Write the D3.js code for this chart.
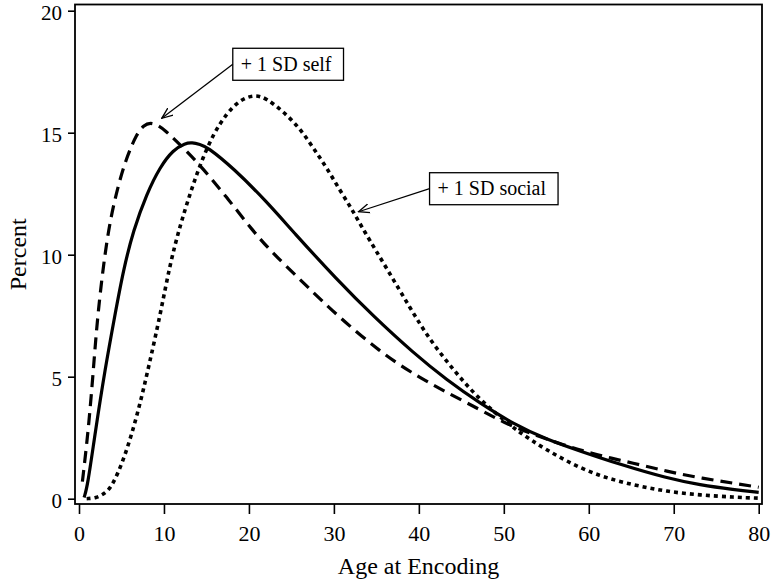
<!DOCTYPE html>
<html>
<head>
<meta charset="utf-8">
<script src="https://cdn.jsdelivr.net/npm/d3@7"></script>
<style>
  html, body { margin: 0; padding: 0; background: #fff; }
  svg { display: block; }
  text { font-family: "Liberation Serif", "Times New Roman", serif; fill: #000; }
</style>
</head>
<body>
<svg id="chart" width="773" height="584"></svg>
<script>
// ---------- data ----------
const selfAge = [0.4, 1.1, 1.7, 2.2, 3.3, 4.45, 5.6, 6.8, 7.6, 8.4, 9.3, 10.1, 11.5, 14.25, 17.4, 20.5, 22.7, 26.4, 30.4, 35.5, 39.4, 43.3, 47.2, 50, 53.1, 57, 61, 65.3, 69.2, 73.1, 77.1, 80];
const selfPct = [0.7, 2.8, 5.3, 7.6, 10.8, 12.65, 14.0, 14.95, 15.3, 15.42, 15.3, 15.1, 14.65, 13.68, 12.35, 10.96, 10.1, 8.85, 7.5, 6.0, 5.1, 4.35, 3.65, 3.12, 2.68, 2.2, 1.79, 1.45, 1.12, 0.85, 0.63, 0.47];

const baseAge = [0.6, 1.0, 1.9, 3.06, 4.24, 5.22, 6.4, 7.97, 9.54, 11.1, 12.5, 13.3, 14.25, 15.04, 18.2, 22.1, 25.2, 30.4, 34.7, 39.4, 43.3, 47.2, 51.2, 55.1, 59, 63.7, 69.2, 73.1, 77.1, 80];
const basePct = [0.05, 0.5, 2.7, 5.3, 7.55, 9.37, 11.0, 12.5, 13.6, 14.3, 14.57, 14.6, 14.52, 14.43, 13.54, 12.17, 10.94, 8.96, 7.46, 5.96, 4.86, 3.91, 3.05, 2.42, 1.95, 1.4, 0.84, 0.56, 0.37, 0.26];

const socialAge = [0.9, 2.0, 3.0, 3.9, 5.4, 7.0, 8.2, 9.6, 10.7, 11.9, 13.07, 14.25, 15.8, 17.4, 18.96, 20.7, 22.1, 24.06, 26.0, 27.6, 29.2, 30.74, 32.3, 33.5, 36.2, 39.0, 41.3, 44.1, 46.8, 50.4, 53.1, 57, 61.2, 65.3, 69.2, 73.1, 77.1, 80];
const socialPct = [0.0, 0.03, 0.2, 0.5, 1.7, 3.6, 5.4, 7.6, 9.6, 11.2, 12.5, 13.7, 14.95, 15.8, 16.35, 16.57, 16.4, 15.86, 15.18, 14.36, 13.54, 12.62, 11.76, 11.0, 9.45, 7.8, 6.5, 5.27, 4.18, 3.09, 2.41, 1.59, 0.92, 0.56, 0.29, 0.15, 0.06, 0.02];

const xTicks = [0, 10, 20, 30, 40, 50, 60, 70, 80];
const yTicks = [0, 5, 10, 15, 20];

const annotLabels = ["+ 1 SD self", "+ 1 SD social"];
const annotBoxAge = [18.1, 41.26];
const annotBoxPct = [18.46, 13.36];
const annotTipAge = [9.74, 32.9];
const annotTipPct = [15.59, 11.76];

const xTitle = "Age at Encoding";
const yTitle = "Percent";

// ---------- layout ----------
const svg = d3.select("#chart");
const frame = { left: 75, right: 762, top: 4.5, bottom: 504 };

const x = d3.scaleLinear().domain([0, 80]).range([79, 758.7]);
const y = d3.scaleLinear().domain([0, 20]).range([498.7, 10.7]);

// frame
svg.append("rect")
  .attr("x", frame.left).attr("y", frame.top)
  .attr("width", frame.right - frame.left)
  .attr("height", frame.bottom - frame.top)
  .attr("fill", "none").attr("stroke", "#000").attr("stroke-width", 1.8);

// axes
const yAxis = svg.append("g")
  .attr("transform", `translate(${frame.left},0)`)
  .call(d3.axisLeft(y).tickValues(yTicks).tickSize(7).tickPadding(6).tickFormat(d3.format("d")));
yAxis.select(".domain").remove();
yAxis.selectAll(".tick line").attr("stroke-width", 1.6);
yAxis.selectAll(".tick text").attr("font-size", 21).attr("dy", "0.4em").attr("font-family", "Liberation Serif");

const xAxis = svg.append("g")
  .attr("transform", `translate(0,${frame.bottom})`)
  .call(d3.axisBottom(x).tickValues(xTicks).tickSize(10).tickPadding(11).tickFormat(d3.format("d")));
xAxis.select(".domain").remove();
xAxis.selectAll(".tick line").attr("stroke-width", 1.6);
xAxis.selectAll(".tick text").attr("font-size", 22).attr("font-family", "Liberation Serif");

// axis titles
svg.append("text")
  .attr("x", (frame.left + frame.right) / 2).attr("y", 574)
  .attr("text-anchor", "middle").attr("font-size", 24)
  .text(xTitle);

svg.append("text")
  .attr("transform", `translate(26,${(frame.top + frame.bottom) / 2}) rotate(-90)`)
  .attr("text-anchor", "middle").attr("font-size", 24)
  .text(yTitle);

// curves
const line = d3.line().x(d => x(d[0])).y(d => y(d[1])).curve(d3.curveBasis);
const series = [
  { age: baseAge, pct: basePct, dash: null, w: 3.2 },
  { age: selfAge, pct: selfPct, dash: "12,7", w: 3.2 },
  { age: socialAge, pct: socialPct, dash: "4,4", w: 3.6 }
];
series.forEach(s => {
  svg.append("path")
    .datum(d3.zip(s.age, s.pct))
    .attr("d", line)
    .attr("fill", "none")
    .attr("stroke", "#000")
    .attr("stroke-width", s.w)
    .attr("stroke-dasharray", s.dash)
    .attr("stroke-linejoin", "round");
});

// annotations
svg.append("defs").append("marker")
  .attr("id", "arrow")
  .attr("viewBox", "0 -6 12 12")
  .attr("refX", 11).attr("refY", 0)
  .attr("markerUnits", "userSpaceOnUse")
  .attr("markerWidth", 12).attr("markerHeight", 12)
  .attr("orient", "auto")
  .append("path")
  .attr("d", "M0,-4.5L11,0L0,4.5")
  .attr("fill", "none").attr("stroke", "#000").attr("stroke-width", 1.3);

const boxH = 32;
annotLabels.forEach((lab, i) => {
  const bx = x(annotBoxAge[i]), by = y(annotBoxPct[i]);
  const g = svg.append("g");
  const t = g.append("text")
    .attr("x", bx + 8).attr("y", by + 22.5)
    .attr("font-size", 20)
    .text(lab);
  const w = t.node().getComputedTextLength() + 20;
  g.insert("rect", "text")
    .attr("x", bx).attr("y", by)
    .attr("width", w).attr("height", boxH)
    .attr("fill", "#fff").attr("stroke", "#000").attr("stroke-width", 1.3);
  svg.append("line")
    .attr("x1", bx).attr("y1", by + boxH / 2)
    .attr("x2", x(annotTipAge[i])).attr("y2", y(annotTipPct[i]))
    .attr("stroke", "#000").attr("stroke-width", 1.3)
    .attr("marker-end", "url(#arrow)");
});
</script>
</body>
</html>
